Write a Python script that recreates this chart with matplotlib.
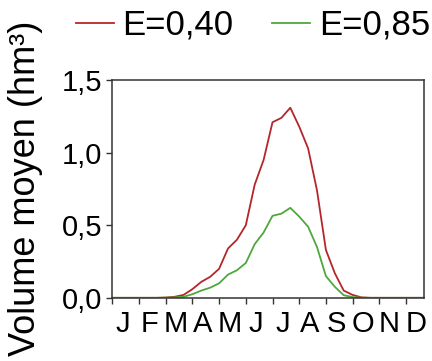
import numpy as np
import matplotlib.pyplot as plt
from matplotlib.lines import Line2D

plt.rcParams['font.family'] = ['Liberation Sans', 'DejaVu Sans']

# dekadal values (3 per month, 36 over the year)
dekad = np.arange(36) / 3.0
vol_040 = [0, 0, 0, 0, 0, 0, 0.002, 0.007, 0.02, 0.06, 0.11, 0.145, 0.20, 0.34,
           0.40, 0.50, 0.78, 0.95, 1.21, 1.24, 1.31, 1.18, 1.03, 0.74, 0.33,
           0.17, 0.05, 0.02, 0.003, 0, 0, 0, 0, 0, 0, 0]
vol_085 = [0, 0, 0, 0, 0, 0, 0.001, 0.003, 0.007, 0.025, 0.05, 0.07, 0.10, 0.16,
           0.19, 0.24, 0.37, 0.45, 0.565, 0.58, 0.62, 0.56, 0.49, 0.35, 0.15,
           0.076, 0.018, 0.005, 0.001, 0, 0, 0, 0, 0, 0, 0]
months = ['J', 'F', 'M', 'A', 'M', 'J', 'J', 'A', 'S', 'O', 'N', 'D']
labels = ['E=0,40', 'E=0,85']
colors = ['#b5262b', '#4ea83c']

fig = plt.figure(figsize=(4.32, 3.61), dpi=100)
ax = fig.add_axes([0.26, 0.175, 0.721, 0.603])

ax.plot(dekad, vol_040, color=colors[0], lw=1.3)
ax.plot(dekad, vol_085, color=colors[1], lw=1.3)

ax.set_xlim(0, 35 / 3.0)
ax.set_ylim(0, 1.5)
ax.set_yticks([0, 0.5, 1.0, 1.5])
ax.set_yticklabels(['0,0', '0,5', '1,0', '1,5'], fontsize=21)
ax.set_xticks(np.arange(12))
ax.set_xticklabels([])
ax.set_xticks(np.arange(12) + 0.38, minor=True)
ax.set_xticklabels(months, minor=True, fontsize=21)
ax.tick_params(axis='x', which='minor', length=0, pad=9)
ax.tick_params(axis='x', which='major', length=4, width=1, color='#333333')
ax.tick_params(axis='y', length=4, width=1, color='#333333', pad=3)
for s in ax.spines.values():
    s.set_color('#333333')
    s.set_linewidth(1.1)

fig.text(0.058, 0.477, 'Volume moyen (hm³)', rotation=90, fontsize=26,
         ha='center', va='center')

handles = [Line2D([], [], color=c, lw=1.3) for c in colors]
fig.legend(handles, labels, loc='center', bbox_to_anchor=(0.585, 0.93), ncol=2,
           frameon=False, fontsize=25, handlelength=1.1, handletextpad=0.25,
           columnspacing=1.1, borderpad=0)

fig.savefig('out.png', dpi=100)
